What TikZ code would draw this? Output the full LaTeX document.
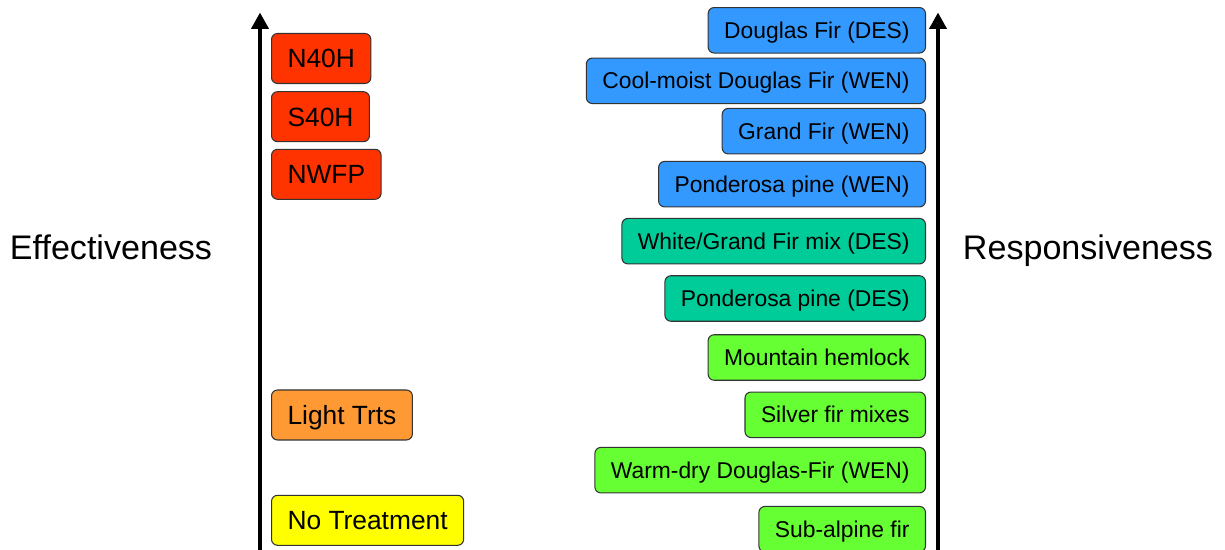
\documentclass[tikz,border=0pt]{standalone}
\usepackage{fontspec}
\setmainfont{Liberation Sans}
\usetikzlibrary{arrows.meta}
\definecolor{redbox}{HTML}{FF3300}
\definecolor{orangebox}{HTML}{FF9933}
\definecolor{yellowbox}{HTML}{FFFF00}
\definecolor{bluebox}{HTML}{3399FF}
\definecolor{tealbox}{HTML}{00CC99}
\definecolor{greenbox}{HTML}{66FF33}
\begin{document}
\begin{tikzpicture}[x=0.02cm,y=0.02cm,
  trt/.style={draw=black!80,line width=0.6pt,rounded corners=0.12cm,anchor=west,
    inner xsep=0.32cm,minimum height=1cm,text height=13.74pt,text depth=3pt,
    font=\fontsize{15}{17}\selectfont},
  stand/.style={draw=black!80,line width=0.6pt,rounded corners=0.12cm,anchor=east,
    inner xsep=0.32cm,minimum height=0.91cm,text height=12.3pt,text depth=3pt,
    font=\fontsize{13}{15}\selectfont},
  axis/.style={line width=2.3pt,-{Triangle[length=0.33cm,width=0.34cm]}},
  axlabel/.style={font=\fontsize{19.4}{22}\selectfont,text height=17.9pt,text depth=4pt}]
\useasboundingbox (0,0) rectangle (1225,550);

\coordinate (lbot) at (260,-10);
\coordinate (ltop) at (260,537.5);
\coordinate (rbot) at (938,-10);
\coordinate (rtop) at (938,537.5);

\node[axlabel] (eff) at (111,303) {Effectiveness};
\node[axlabel] (resp) at (1088,303) {Responsiveness};

\node[trt,fill=redbox] (n40h) at (271,491.5) {N40H};
\node[trt,fill=redbox] (s40h) at (271,433.3) {S40H};
\node[trt,fill=redbox] (nwfp) at (271,375.7) {NWFP};
\node[trt,fill=orangebox] (light) at (271,135) {Light Trts};
\node[trt,fill=yellowbox] (none) at (271,29.7) {No Treatment};

\node[stand,fill=bluebox] (dfdes) at (926,519.7) {Douglas Fir (DES)};
\node[stand,fill=bluebox] (cmdf) at (926,469.2) {Cool-moist Douglas Fir (WEN)};
\node[stand,fill=bluebox] (gfwen) at (926,418.8) {Grand Fir (WEN)};
\node[stand,fill=bluebox] (ppwen) at (926,365.8) {Ponderosa pine (WEN)};
\node[stand,fill=tealbox] (wgf) at (926,308.8) {White/Grand Fir mix (DES)};
\node[stand,fill=tealbox] (ppdes) at (926,251.5) {Ponderosa pine (DES)};
\node[stand,fill=greenbox] (mh) at (926,192.5) {Mountain hemlock};
\node[stand,fill=greenbox] (sfm) at (926,135.2) {Silver fir mixes};
\node[stand,fill=greenbox] (wddf) at (926,79.8) {Warm-dry Douglas-Fir (WEN)};
\node[stand,fill=greenbox] (saf) at (926,20.8) {Sub-alpine fir};

\draw[axis] (lbot) -- (ltop);
\draw[axis] (rbot) -- (rtop);
\end{tikzpicture}
\end{document}
